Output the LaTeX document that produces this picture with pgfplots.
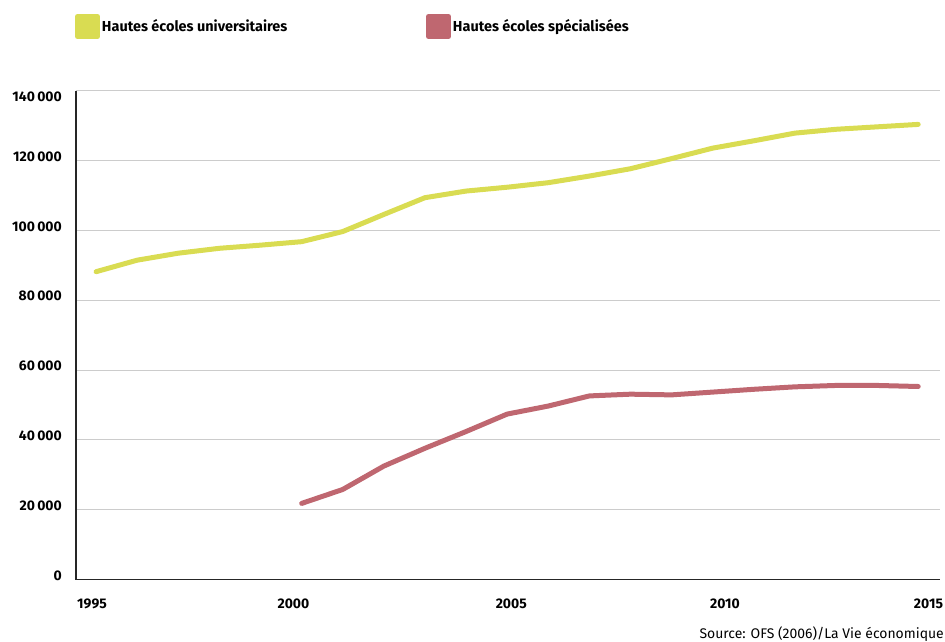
\documentclass[border=0pt]{standalone}
\usepackage{fontspec}
\setmainfont{Fira Sans}
\usepackage{pgfplots}
\pgfplotsset{compat=1.18}
\definecolor{uniY}{RGB}{217,220,82}
\definecolor{hesR}{RGB}{191,103,112}
\definecolor{gridG}{RGB}{204,204,204}
\begin{document}
\begin{tikzpicture}
\begin{axis}[
  scale only axis, width=864bp, height=488.6bp,
  xmin=1994.51, xmax=2015.53, ymin=0, ymax=140000,
  scaled y ticks=false,
  axis x line*=bottom, axis y line*=left,
  axis line style={line width=1.3bp, black!85, -},
  ytick={0,20000,40000,60000,80000,100000,120000,140000},
  yticklabels={0,20\,000,40\,000,60\,000,80\,000,100\,000,120\,000,\raisebox{-15bp}[0pt][0pt]{140\,000}},
  ymajorgrids, grid style={gridG, line width=1bp},
  xtick={1994.9,1999.8,2005.1,2010.3,2015.25},
  xticklabels={1995,2000,2005,2010,2015},
  major tick length=0pt,
  tick label style={font=\fontsize{14}{16}\selectfont\bfseries},
  y tick label style={anchor=east, inner sep=0pt, xshift=-14bp, yshift=4bp},
  x tick label style={anchor=base, inner sep=0pt, yshift=-28.5bp},
  legend columns=2,
  legend style={draw=none, fill=none, inner sep=0pt, outer sep=0pt,
    at={(axis description cs:-0.00116,1.1574)}, anchor=north west,
    font=\fontsize{14.5}{16}\selectfont\bfseries,
    nodes={inner sep=0pt}},
  legend image code/.code={\fill[#1] (0bp,-10bp) rectangle (20bp,10bp);},
]
\addplot[uniY, line width=5bp, line cap=round, line join=round] coordinates {
(1995,88200) (1996,91500) (1997,93500) (1998,94900) (1999,95800) (2000,96800)
(2001,99700) (2002,104600) (2003,109400) (2004,111300) (2005,112400)
(2006,113700) (2007,115600) (2008,117700) (2009,120600) (2010,123600)
(2011,125700) (2012,127900) (2013,129000) (2014,129700) (2015,130400)};
\addlegendentry{\makebox[326bp][l]{\hspace*{2bp}Hautes écoles universitaires}}
\addplot[hesR, line width=5bp, line cap=round, line join=round] coordinates {
(2000,21800) (2001,25800) (2002,32500) (2003,37600) (2004,42400) (2005,47400)
(2006,49700) (2007,52600) (2008,53100) (2009,52900) (2010,53700)
(2011,54500) (2012,55200) (2013,55600) (2014,55600) (2015,55300)};
\addlegendentry{\hspace*{2bp}Hautes écoles spécialisées}
\end{axis}
\node[anchor=base east, inner sep=0pt, font=\fontsize{14}{16}\selectfont] at (868bp,-59bp) {Source: OFS (2006)/La Vie économique};
\pgfresetboundingbox
\path[use as bounding box] (-76bp,-62.5bp) rectangle (869bp,579.5bp);
\end{tikzpicture}
\end{document}
